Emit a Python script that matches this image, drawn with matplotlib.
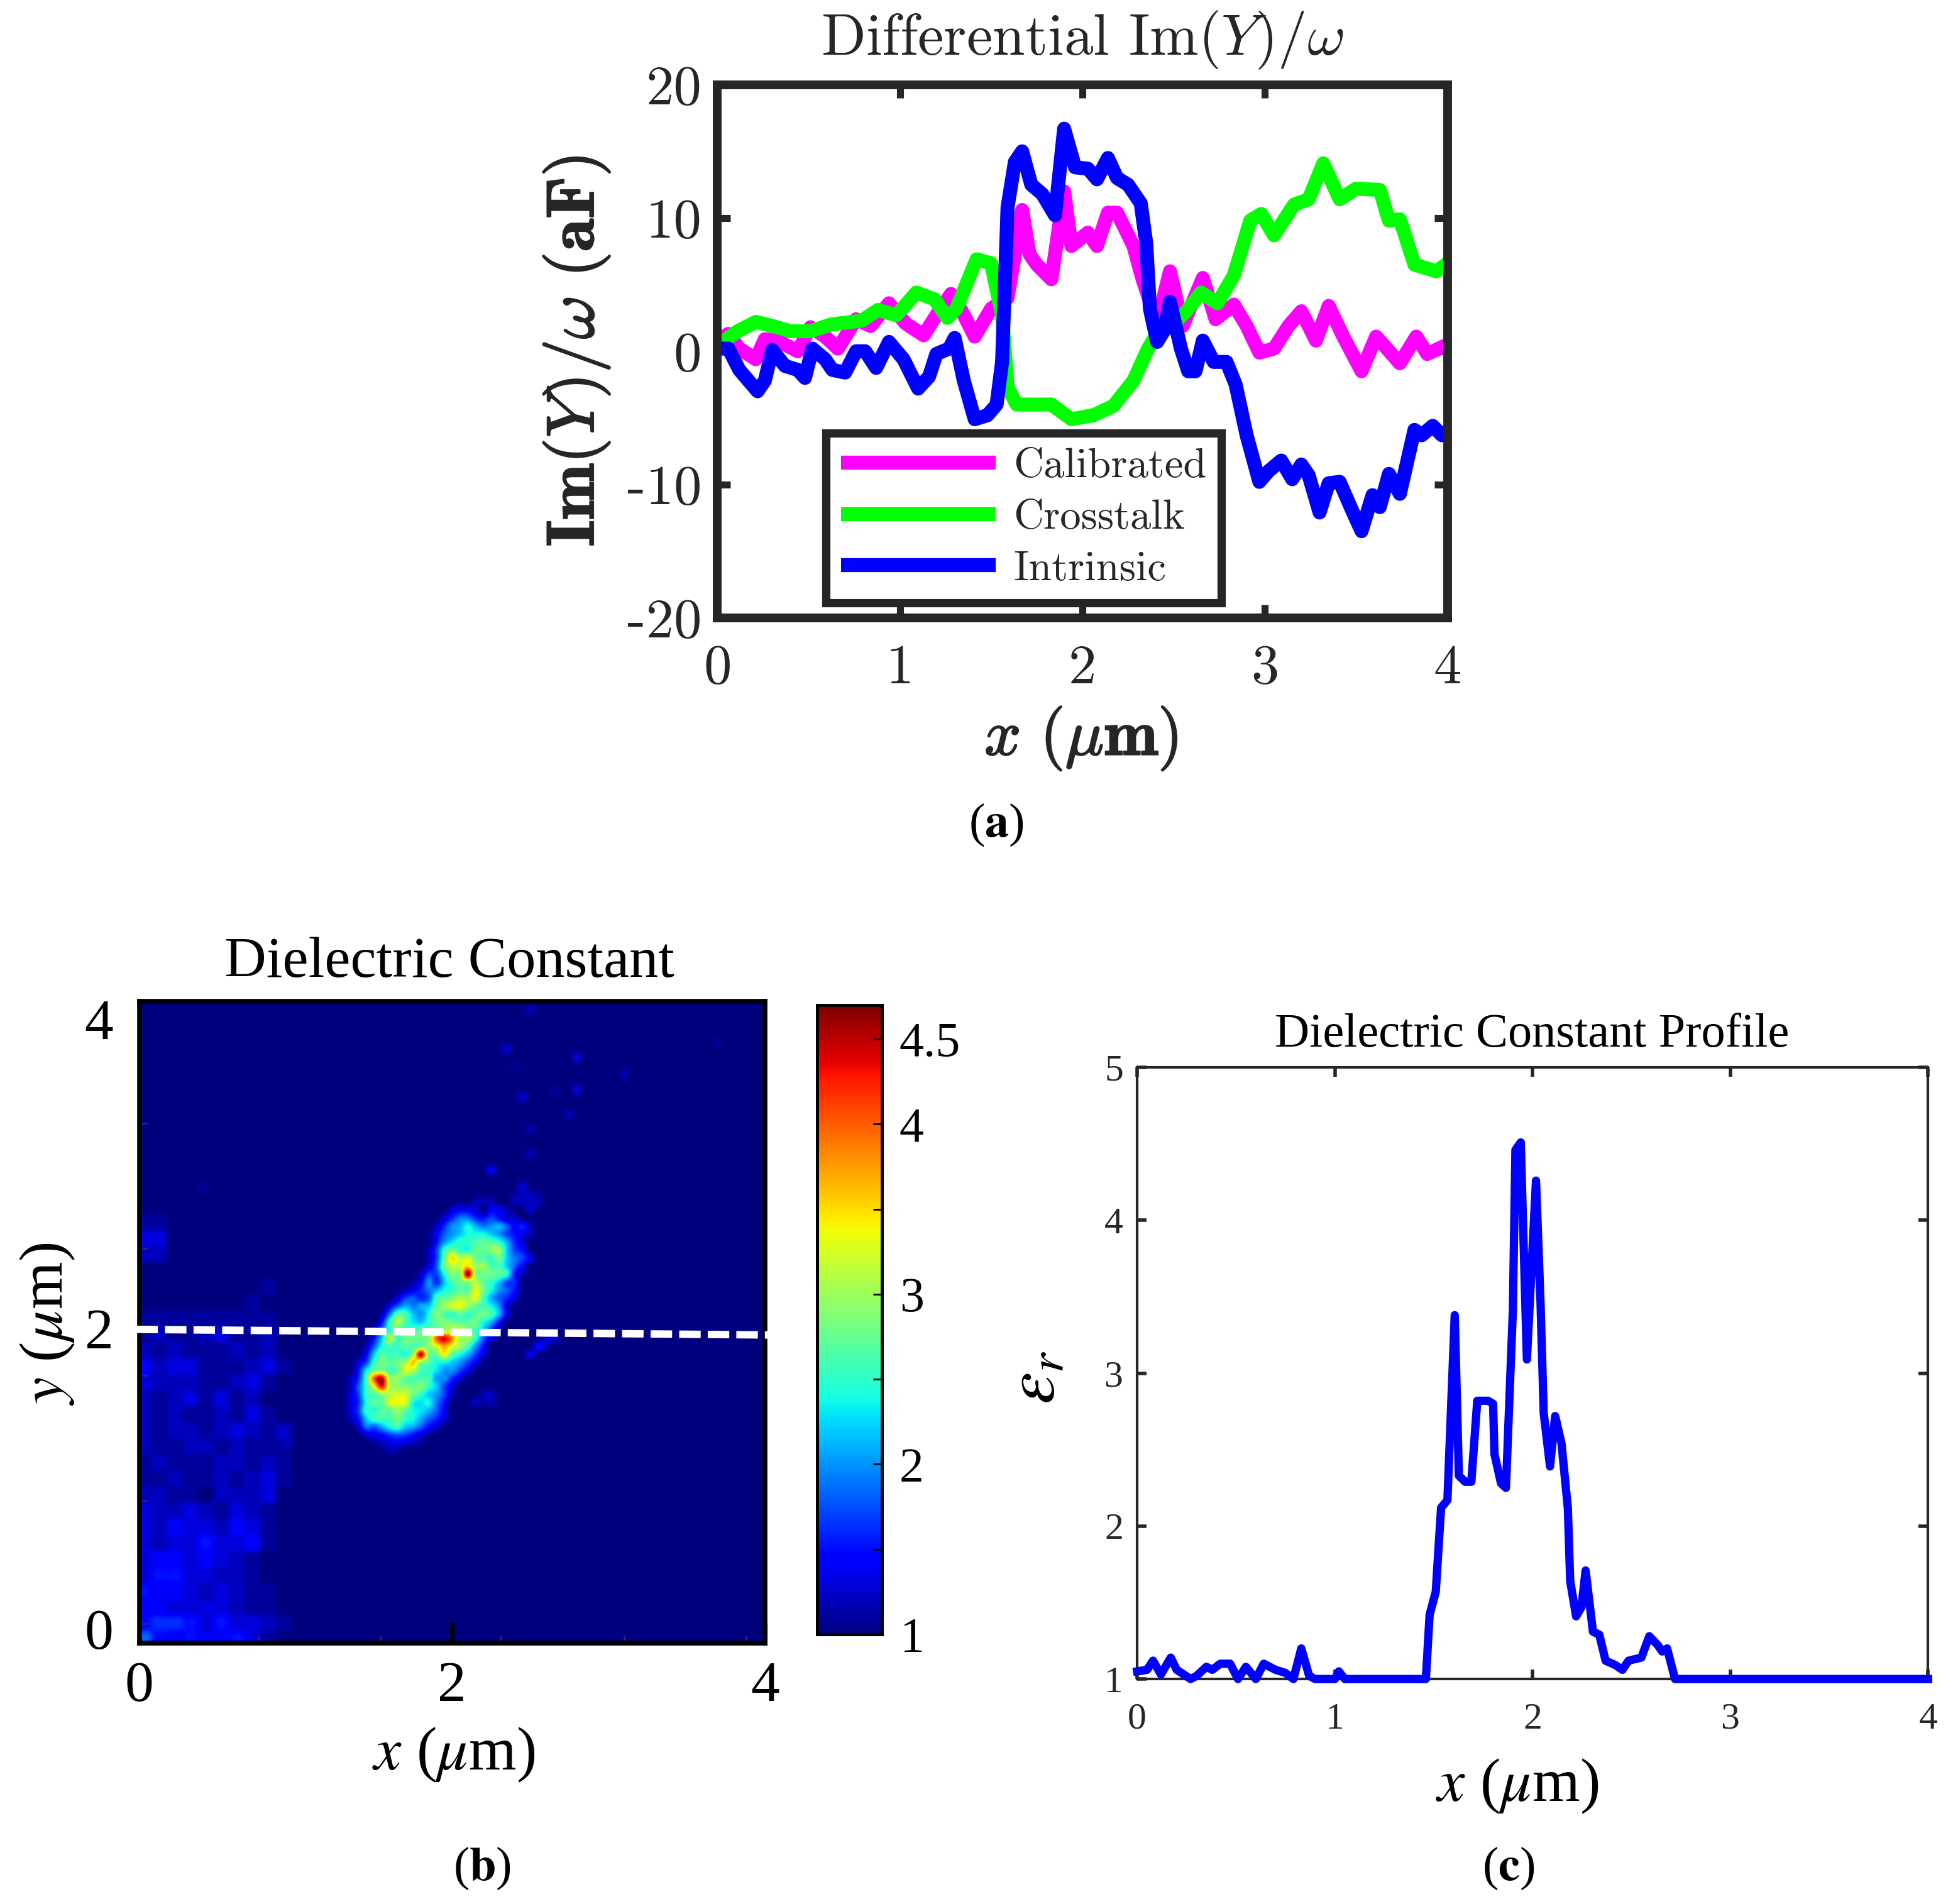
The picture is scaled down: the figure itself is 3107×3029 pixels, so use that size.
import numpy as np
import matplotlib
matplotlib.use("Agg")
import matplotlib.pyplot as plt
import matplotlib.patheffects as pe
from matplotlib.transforms import ScaledTranslation

plt.rcParams['axes.unicode_minus'] = False
plt.rcParams['axes.formatter.use_mathtext'] = True

# ---------- panel (a) data ----------
blue_x = [0.0,0.06,0.12,0.22,0.26,0.30,0.37,0.44,0.48,0.52,
          0.59,0.63,0.70,0.76,0.81,0.87,0.94,1.02,1.10,1.16,
          1.20,1.27,1.30,1.35,1.41,1.48,1.53,1.56,1.59,1.63,
          1.67,1.72,1.78,1.85,1.90,1.96,2.03,2.08,2.14,2.19,
          2.25,2.32,2.35,2.37,2.41,2.45,2.48,2.54,2.58,2.62,
          2.66,2.72,2.79,2.84,2.90,2.97,3.02,3.09,3.15,3.20,
          3.24,3.30,3.35,3.41,3.48,3.53,3.59,3.63,3.68,3.74,
          3.82,3.86,3.92,3.97,4.0]
blue_y = [0.2,0.2,-1.4,-3.0,-2.2,0.1,-1.1,-1.4,-2.0,0.2,
          -0.6,-1.4,-1.6,0.0,0.0,-1.25,0.7,-0.6,-2.8,-1.9,
          -0.2,0.2,1.0,-2.2,-5.1,-4.8,-4.0,-0.8,10.8,14.2,
          15.0,12.5,11.8,10.2,16.7,13.8,13.7,12.9,14.5,13,
          12.5,11.1,8.1,3.2,0.7,1.6,3.7,0.2,-1.5,-1.5,
          0.8,-0.8,-0.8,-2.5,-6.3,-9.8,-9,-8.2,-9.6,-8.5,
          -9.3,-12.1,-9.9,-9.8,-12,-13.5,-10.8,-11.7,-9.2,-10.7,
          -5.9,-6.3,-5.6,-6.3,-6.0]

green_x = [0.0,0.04,0.11,0.21,0.30,0.40,0.51,0.62,0.79,0.88,
           0.98,1.09,1.19,1.26,1.31,1.42,1.50,1.56,1.59,1.64,
           1.78,1.83,1.94,2.06,2.17,2.28,2.36,2.41,2.50,2.57,
           2.65,2.74,2.83,2.92,2.98,3.05,3.16,3.24,3.32,3.41,
           3.50,3.63,3.68,3.74,3.82,3.94,4.0]
green_y = [0.2,0.8,1.5,2.2,1.9,1.5,1.5,2.0,2.3,3.1,
           2.7,4.4,3.9,2.5,3.2,6.9,6.6,2.7,-2.7,-4.0,
           -4.0,-4.0,-5.1,-4.8,-4.1,-2.2,0.2,1.3,2.1,3.0,
           4.4,3.6,5.7,9.8,10.3,8.7,11,11.4,14.1,11.4,
           12.2,12.1,9.8,9.9,6.5,6.0,6.6]

magenta_x = [0.0,0.06,0.12,0.21,0.26,0.33,0.44,0.51,0.59,0.66,
             0.76,0.84,0.94,1.03,1.13,1.20,1.28,1.34,1.41,1.50,
             1.59,1.67,1.71,1.75,1.83,1.90,1.94,2.03,2.08,2.14,
             2.19,2.28,2.33,2.41,2.48,2.55,2.66,2.73,2.83,2.90,
             2.97,3.05,3.13,3.20,3.28,3.35,3.43,3.53,3.61,3.74,
             3.83,3.89,4.0]
magenta_y = [0.8,1.3,0.2,-0.6,0.9,0.8,0.0,1.8,1.1,0.2,
             2.4,1.9,3.6,2.1,1.2,2.7,4.3,3.0,1.1,3.2,
             4.0,10.6,7.3,6.5,5.4,12.0,7.9,8.9,7.9,10.4,
             10.4,7.9,5.4,2.1,6.0,1.9,5.5,2.4,3.5,1.9,
             -0.1,0.2,1.9,3.0,0.8,3.4,1.1,-1.5,1.1,-0.9,
             1.1,-0.2,0.5]
legend_names = ['Calibrated', 'Crosstalk', 'Intrinsic']
a_xticks = [0, 1, 2, 3, 4]
a_yticks = [-20, -10, 0, 10, 20]
a_yticklabels = ['-20', '-10', '0', '10', '20']

# ---------- panel (c) data ----------
prof_x = [0,0.05,0.08,0.12,0.17,0.20,0.27,0.30,0.35,0.38,
          0.42,0.47,0.51,0.55,0.60,0.64,0.70,0.75,0.79,0.83,
          0.87,0.90,1.00,1.02,1.05,1.46,1.479,1.51,1.537,1.569,
          1.606,1.627,1.659,1.69,1.72,1.775,1.80,1.807,1.84,1.865,
          1.90,1.913,1.94,1.971,2.017,2.04,2.056,2.088,2.114,2.146,
          2.178,2.19,2.22,2.247,2.268,2.305,2.337,2.369,2.42,2.454,
          2.485,2.55,2.59,2.634,2.655,2.68,2.72,4.0]
prof_y = [1.05,1.06,1.12,1.03,1.14,1.06,1.0,1.02,1.08,1.06,
          1.10,1.10,1.0,1.08,1.0,1.10,1.06,1.04,1.0,1.2,
          1.02,1.0,1.0,1.05,1.0,1.0,1.42,1.57,2.12,2.17,
          3.38,2.33,2.29,2.29,2.82,2.82,2.80,2.47,2.28,2.25,
          3.41,4.46,4.51,3.09,4.26,3.46,2.74,2.39,2.72,2.54,
          2.12,1.64,1.41,1.47,1.71,1.31,1.29,1.12,1.09,1.06,
          1.12,1.14,1.28,1.22,1.18,1.20,1.0,1.0]
c_xticks = [0, 1, 2, 3, 4]
c_yticks = [1, 2, 3, 4, 5]

# ---------- panel (b) data (dielectric constant x10) ----------
# lower-left haze, 0.1 um cells; rows y = 2.7 ... 0.0, columns x = 0.0 ... 1.0
haze_rows = [
 [10,10,10,10,10,10,10,10,10,10,10],
 [11,11,10,10,10,10,10,10,10,10,10],
 [13,13,10,10,10,10,10,10,10,10,10],
 [12,12,10,10,10,10,10,10,10,10,10],
 [10,10,10,10,10,10,10,10,10,10,10],
 [10,10,10,10,10,10,10,10,11,10,10],
 [10,10,10,10,10,10,10,11,10,10,10],
 [11,11,11,11,11,11,11,11,11,10,10],
 [11,12,11,11,12,13,11,11,12,10,10],
 [12,11,12,11,11,11,12,11,12,10,10],
 [14,12,13,13,11,11,11,12,13,11,10],
 [13,12,12,12,11,11,12,13,11,10,10],
 [12,11,12,13,11,13,11,12,10,10,10],
 [12,11,12,11,11,12,11,13,11,10,10],
 [12,11,12,12,11,12,13,12,11,12,10],
 [12,11,11,12,12,11,12,11,11,11,10],
 [11,12,11,11,11,12,12,11,12,11,10],
 [11,11,12,11,11,12,11,12,13,11,10],
 [12,12,11,11,10,12,12,12,13,10,10],
 [13,12,12,13,12,11,13,12,11,10,10],
 [13,12,14,13,13,12,14,13,11,10,10],
 [13,12,13,13,15,13,13,14,11,10,10],
 [13,14,14,13,14,13,12,11,10,10,10],
 [13,15,15,13,13,12,12,11,10,10,10],
 [15,14,14,13,12,13,12,11,11,10,10],
 [14,14,13,13,13,13,12,11,11,10,10],
 [15,16,16,15,13,15,13,13,12,11,10],
 [18,15,14,15,14,14,15,13,11,10,10],
]
# central blob, 0.05 um cells; (first x of the row, values); rows y = 2.80 ... 1.20
blob_rows = [
 (2.40,[11,12,12,11]),
 (2.05,[11,10,12,12,12,10,10,12,12,12,12]),
 (2.00,[13,14,14,13,10,14,14,12,10,10,13]),
 (1.95,[13,16,19,19,16,15,17,15,12,13]),
 (1.90,[12,16,20,21,24,21,19,20,21,18,14,16,12]),
 (1.85,[11,14,18,20,22,24,24,24,22,20,17,15,13,12]),
 (1.90,[15,20,23,25,25,26,27,27,25,21,16,13]),
 (1.85,[12,17,25,28,25,24,28,27,29,30,22,17,15]),
 (1.85,[12,17,27,35,31,33,27,27,25,28,22,19,17,14]),
 (1.85,[13,18,28,31,32,35,30,30,26,26,22,18,14]),
 (1.80,[12,17,17,24,29,29,46,29,28,28,27,25,15,12]),
 (1.75,[11,14,20,16,22,26,28,29,31,27,25,22,17,16]),
 (1.70,[12,14,16,19,21,24,25,27,27,33,28,24,20,18,15]),
 (1.65,[13,17,18,16,18,26,27,29,31,30,33,26,21,18,16,13]),
 (1.60,[14,18,21,19,21,22,27,30,32,33,30,27,26,24,20,13]),
 (1.55,[12,19,27,26,22,20,24,29,26,25,27,25,27,28,26,21,14]),
 (1.55,[15,25,31,26,23,22,25,27,29,28,27,27,28,24,21,15]),
 (1.50,[13,19,25,25,25,26,27,27,29,30,32,32,28,26,22,16,12]),
 (1.50,[15,22,31,26,28,28,28,29,40,44,38,30,30,25,18,13,10,10,10,10,10,10,13,13]),
 (1.45,[12,18,24,26,25,27,26,28,29,33,37,33,30,26,20,15,10,10,10,10,10,10,15,12]),
 (1.45,[14,22,27,25,26,24,30,45,28,28,34,27,24,21,17,13,10,10,10,10,10,14]),
 (1.40,[13,17,25,28,27,28,30,36,29,27,24,24,22,20,17,14]),
 (1.40,[15,23,28,29,26,27,33,31,26,25,23,20,20,17,14]),
 (1.35,[12,16,26,40,45,30,30,27,26,26,26,20,20,16,13]),
 (1.35,[12,18,25,33,43,31,29,29,28,29,25,22,17,13]),
 (1.35,[13,17,25,26,29,31,33,32,28,25,22,20,17,12,10,10,10,12,12]),
 (1.35,[13,16,24,27,27,33,33,33,24,23,24,19,15,10,10,10,12,11,12]),
 (1.35,[13,17,25,24,27,27,30,27,24,23,21,18,14]),
 (1.35,[12,15,22,26,26,26,28,25,24,21,18,16,13]),
 (1.40,[13,19,18,21,24,26,22,21,18,15,13]),
 (1.45,[13,14,15,17,18,17,15,13,11]),
 (1.50,[11,12,13,14,13,12,11]),
 (1.60,[12,11]),
]
blob_top = 2.80
# faint isolated specks
speck_x = [2.34,2.51,2.82,2.80,2.47,2.76,2.50,2.50,2.24,2.44,3.10,3.70,0.40,2.38,2.65,0.90,0.95]
speck_y = [3.71,3.95,3.64,3.43,3.42,3.29,3.21,3.07,2.96,2.86,3.54,3.76,2.83,3.60,3.45,1.30,1.25]
speck_v = [13,12,13,13,13,12,12,12,14,13,12,11,11,11,11,13,12]
b_ticks = [0, 2, 4]
b_faint_x = [0.76, 1.54, 2.31, 3.10, 3.88]
b_faint_y = [0.12, 0.89, 1.67, 2.46, 3.24]
cbar_ticks = [1, 1.5, 2, 2.5, 3, 3.5, 4, 4.5]
cbar_labels = ['1', '', '2', '', '3', '', '4', '4.5']
vmin, vmax = 1.0, 4.7
line_x = [-0.02, 4.03]
line_y = [1.955, 1.92]

# ---------- build map ----------
step = 0.05
n = int(round(4 / step)) + 1
Z = np.full((n, n), 10.0)
for r, row in enumerate(haze_rows):
    y = 2.7 - 0.1 * r
    for c, v in enumerate(row):
        j, i = int(round(y / step)), int(round(0.1 * c / step))
        Z[j:j + 2, i:i + 2] = v
for r, (x0, vals) in enumerate(blob_rows):
    j = int(round((blob_top - step * r) / step))
    i0 = int(round(x0 / step))
    Z[j, i0:i0 + len(vals)] = np.maximum(Z[j, i0:i0 + len(vals)], vals)
for sx, sy, sv in zip(speck_x, speck_y, speck_v):
    Z[int(round(sy / step)), int(round(sx / step))] = sv
Z = Z / 10.0

# ---------- layout helpers (reference units: 1568-wide view) ----------
W, H = 3107, 3029
S = W / 1568.0
fig = plt.figure(figsize=(W / 100, H / 100), dpi=100, facecolor='white')

def rect(l, r, t, b):
    return [l * S / W, 1 - b * S / H, (r - l) * S / W, (b - t) * S / H]

def ftext(x, y, s, **kw):
    return fig.text(x * S / W, 1 - y * S / H, s, ha=kw.pop('ha', 'center'), va=kw.pop('va', 'center'), **kw)

DG = '#262626'
CM = 'cmr10'

# ---------- panel (a) ----------
ax = fig.add_axes(rect(576, 1162, 68, 496))
lw = 16
style = dict(lw=lw, solid_joinstyle='round', solid_capstyle='round')
ax.plot(magenta_x, magenta_y, color='#ff00ff', label=legend_names[0], **style)
ax.plot(green_x, green_y, color='#00ff00', label=legend_names[1], **style)
ax.plot(blue_x, blue_y, color='#0000ff', label=legend_names[2], **style)
ax.set_xlim(0, 4)
ax.set_ylim(-20, 20)
for sp in ax.spines.values():
    sp.set_linewidth(10)
    sp.set_color(DG)
ax.set_xticks(a_xticks)
ax.set_xticklabels([str(t) for t in a_xticks], family=CM, color=DG, fontsize=64)
ax.set_yticks(a_yticks)
ax.set_yticklabels(a_yticklabels, family=CM, color=DG, fontsize=64)
ax.tick_params(direction='in', length=15, width=8, top=True, right=True, color=DG)
ax.tick_params(axis='x', pad=30)
ax.tick_params(axis='y', pad=18)
leg = ax.legend(loc='lower left', bbox_to_anchor=(0.149, 0.028), borderaxespad=0,
                handlelength=3.7, handletextpad=0.42, labelspacing=0.33, borderpad=0.35,
                fancybox=False, framealpha=1, edgecolor=DG, prop={'family': CM, 'size': 48})
leg.get_frame().set_linewidth(9.5)
for t in leg.get_texts():
    t.set_color(DG)
for h in leg.get_lines():
    h.set_solid_capstyle('butt')
ftext(869, 32, r'Differential $\mathrm{Im}(Y)/\omega$', family=CM, fontsize=67, color=DG, math_fontfamily='cm')
strong = [pe.withStroke(linewidth=1.6, foreground=DG)]
ftext(463, 282, r'$\mathbf{Im}(Y)/\omega\ (\mathbf{aF})$', fontsize=77, color=DG, rotation=90,
      math_fontfamily='cm', path_effects=strong)
ftext(868, 593, r'$x\ (\mu\mathbf{m})$', fontsize=74, color=DG, math_fontfamily='cm', path_effects=strong)

# ---------- panel (b) ----------
ax = fig.add_axes(rect(112, 614, 804, 1319))
im = ax.imshow(Z, origin='lower', cmap='jet', vmin=vmin, vmax=vmax, interpolation='catrom',
               extent=(-step / 2, 4 + step / 2, -step / 2, 4 + step / 2), aspect='auto')
ax.plot(line_x, line_y, color='white', lw=8.5, dashes=(2.9, 0.95), dash_capstyle='butt', clip_on=False, zorder=5)
ax.set_xlim(0, 4)
ax.set_ylim(0, 4)
for sp in ax.spines.values():
    sp.set_linewidth(5.5)
ax.set_xticks(b_ticks)
ax.set_yticks(b_ticks)
ax.set_xticks(b_faint_x, minor=True)
ax.set_yticks(b_faint_y, minor=True)
ax.set_xticklabels([str(t) for t in b_ticks], family='Liberation Serif', fontsize=66)
ax.set_yticklabels([str(t) for t in b_ticks], family='Liberation Serif', fontsize=66)
ax.tick_params(axis='x', which='major', direction='in', length=24, width=5, pad=21)
ax.tick_params(axis='y', which='major', direction='in', length=0, pad=30)
ax.tick_params(which='minor', direction='in', length=9, width=2, color='#2a2a70')
for lab, dy in zip(ax.get_yticklabels(), [0.22, -0.10, -0.28]):
    lab.set_transform(lab.get_transform() + ScaledTranslation(0, dy, fig.dpi_scale_trans))
ftext(361, 773, 'Dielectric Constant', family='Liberation Serif', fontsize=66.5)
ftext(364, 1409, r'$x$ ($\mu$m)', family='Liberation Serif', fontsize=70, math_fontfamily='stix')
ftext(38, 1063, r'$y$ ($\mu$m)', family='Liberation Serif', fontsize=70, rotation=90, math_fontfamily='stix')

# colour bar
cax = fig.add_axes(rect(656, 708, 807, 1312))
cb = fig.colorbar(im, cax=cax)
cb.set_ticks(cbar_ticks)
cb.set_ticklabels(cbar_labels, family='Liberation Serif', fontsize=56)
cax.tick_params(direction='in', length=10, width=2, pad=20)
cb.outline.set_linewidth(3.6)
cb.outline.set_edgecolor('black')

# ---------- panel (c) ----------
ax = fig.add_axes(rect(913, 1548, 857, 1348))
ax.plot(prof_x, prof_y, color='#0000ff', lw=9.5, solid_joinstyle='round', clip_on=False, zorder=5)
ax.set_xlim(0, 4)
ax.set_ylim(1, 5)
for sp in ax.spines.values():
    sp.set_linewidth(3)
    sp.set_color(DG)
ax.set_xticks(c_xticks)
ax.set_yticks(c_yticks)
ax.set_xticklabels([str(t) for t in c_xticks], family='Liberation Serif', fontsize=43, color=DG)
ax.set_yticklabels([str(t) for t in c_yticks], family='Liberation Serif', fontsize=43, color=DG)
ax.tick_params(direction='in', length=11, width=4, top=True, right=True, color=DG)
ax.tick_params(axis='x', pad=27)
ax.tick_params(axis='y', pad=16)
ftext(1230, 831, 'Dielectric Constant Profile', family='Liberation Serif', fontsize=55)
ftext(1218, 1434, r'$x$ ($\mu$m)', family='Liberation Serif', fontsize=70, math_fontfamily='stix')
ftext(830, 1106, r'$\varepsilon_r$', fontsize=82, rotation=90, math_fontfamily='stix')

# ---------- captions ----------
for cx, cy, letter in [(800, 662, 'a'), (387, 1500, 'b'), (1211, 1500, 'c')]:
    ftext(cx, cy, '(' + r'$\mathbf{' + letter + '}$' + ')', family='Liberation Serif', fontsize=55,
          math_fontfamily='stix')

fig.savefig('out.png', dpi=100, facecolor='white')
